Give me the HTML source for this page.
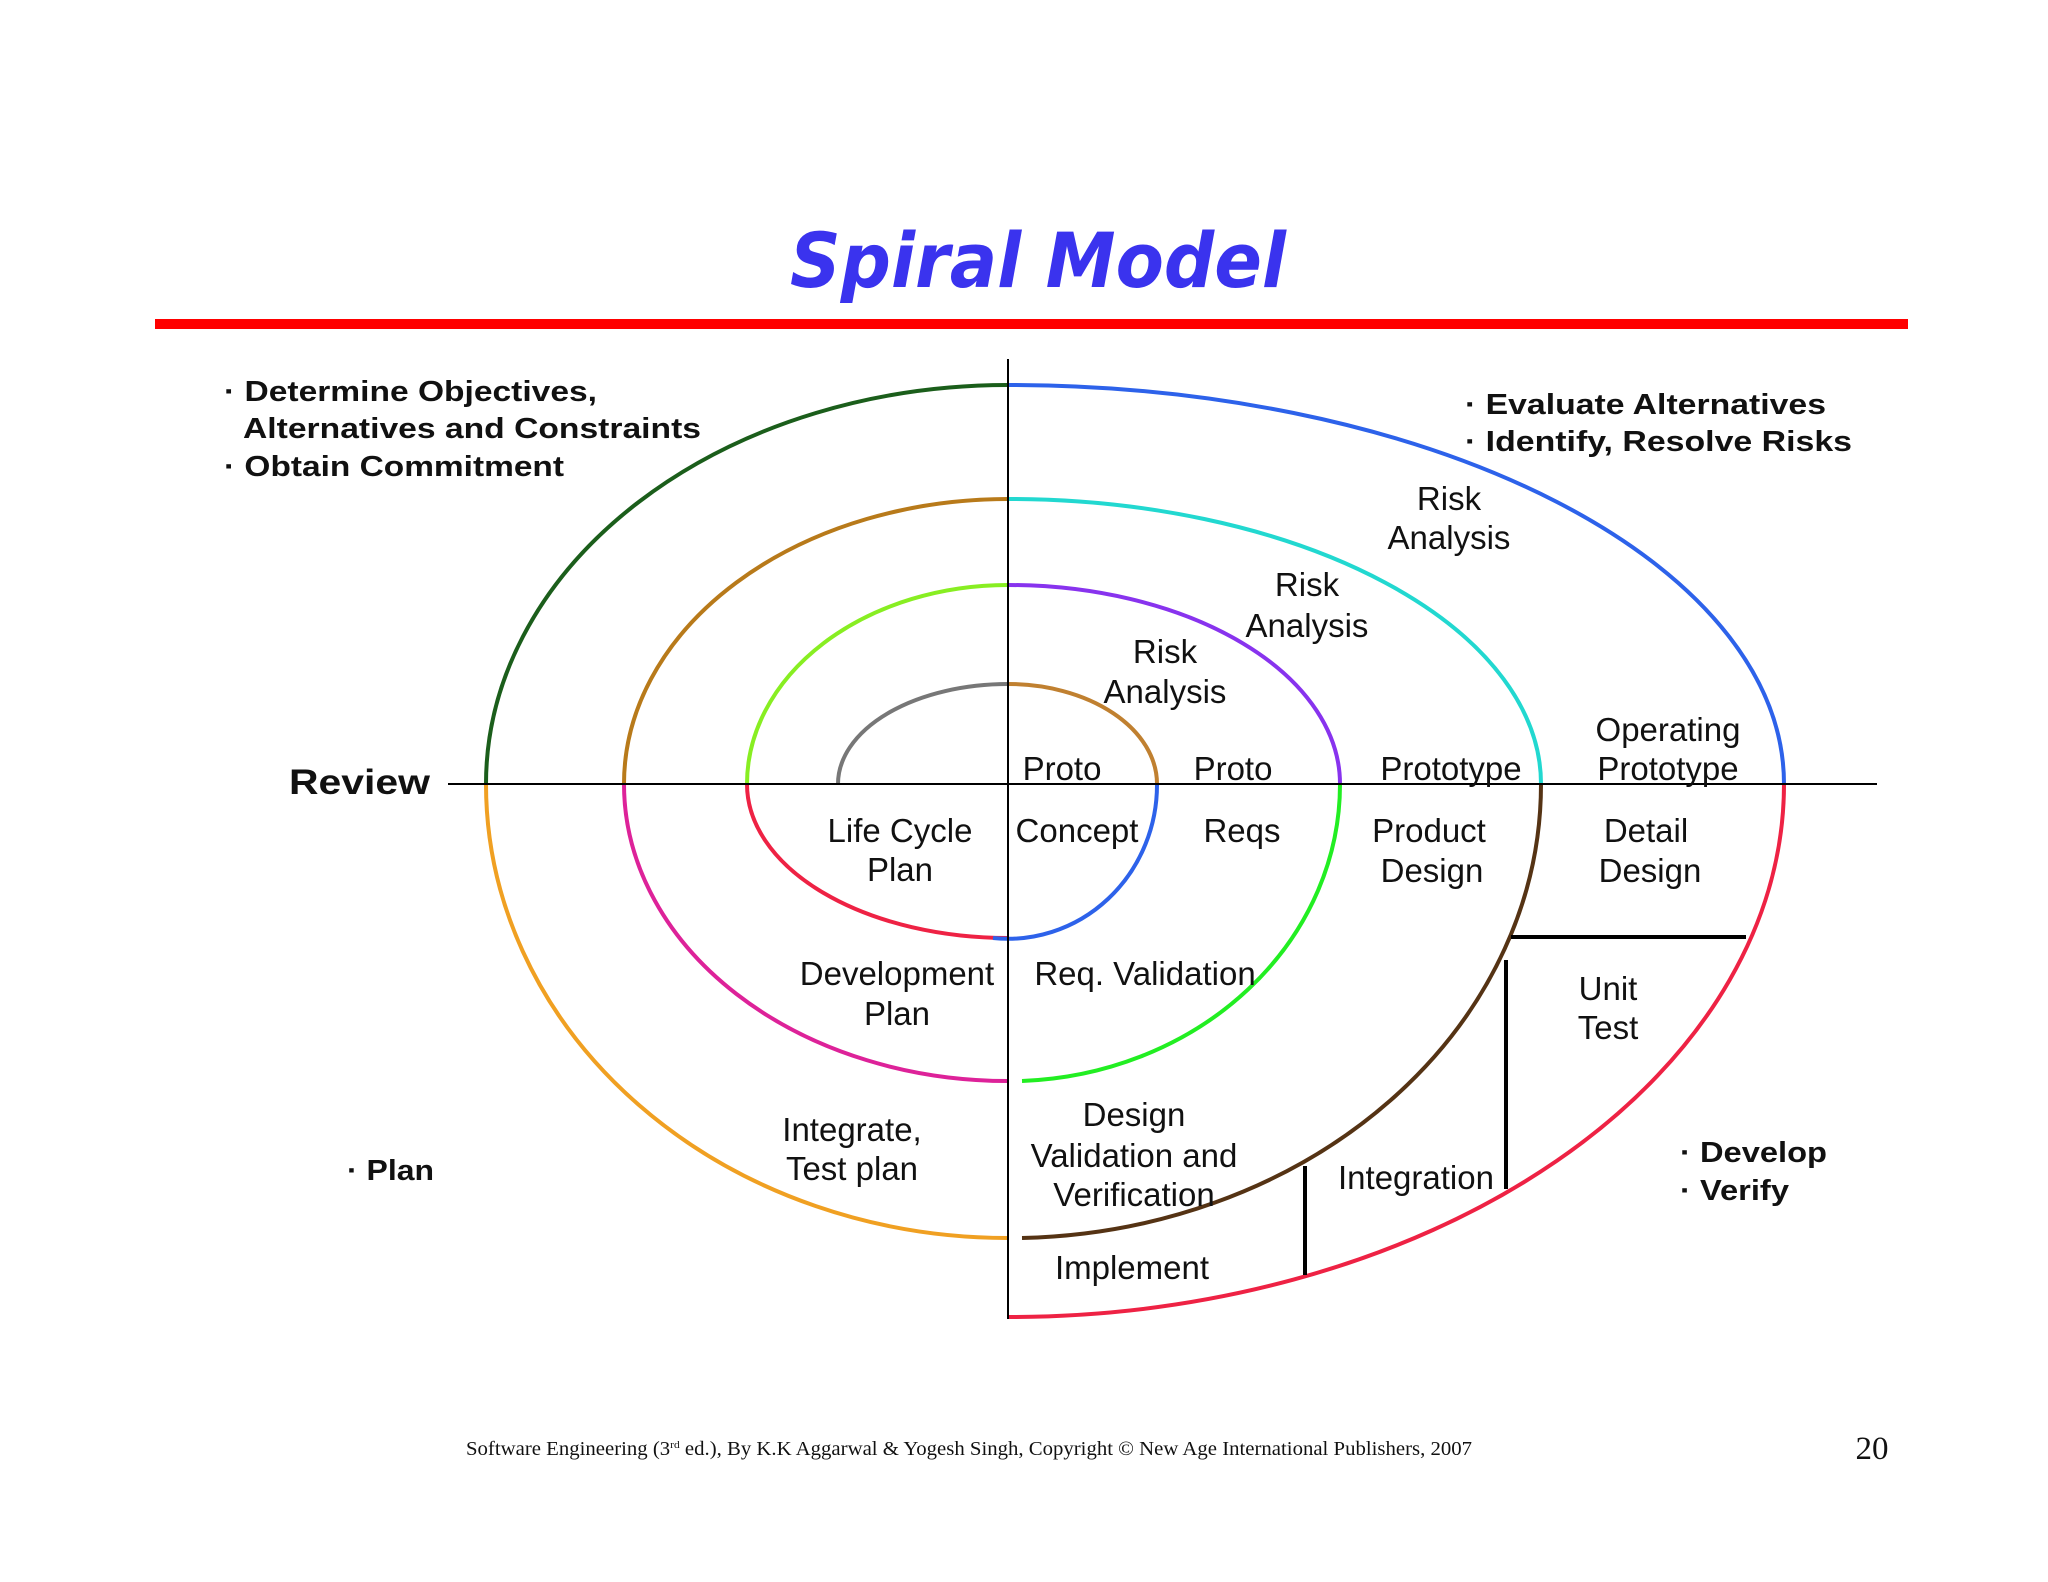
<!DOCTYPE html>
<html><head><meta charset="utf-8"><style>
html,body{margin:0;padding:0;background:#fff;}
svg{display:block;}
text{font-family:"Liberation Sans",sans-serif;}
</style></head><body>
<svg width="2048" height="1582" viewBox="0 0 2048 1582" xmlns="http://www.w3.org/2000/svg">
<rect width="2048" height="1582" fill="#ffffff"/>
<text x="1038" y="287" text-anchor="middle" font-size="76" font-weight="bold" font-style="italic" fill="#3a33ee" style="font-family:'DejaVu Sans Condensed','DejaVu Sans',sans-serif" textLength="496" lengthAdjust="spacingAndGlyphs">Spiral Model</text>
<rect x="155" y="319" width="1753" height="10" fill="#ff0000"/>
<g fill="none" stroke-width="4" stroke-linecap="butt">
<path d="M486 784 A522 399 0 0 1 1008 385" stroke="#1b5e1b"/>
<path d="M1008 385 A776 399 0 0 1 1784 784" stroke="#2d62ea"/>
<path d="M1784 784 A776 533 0 0 1 1008 1317" stroke="#ee2244"/>
<path d="M1008 1238 A522 454 0 0 1 486 784" stroke="#f0a022"/>
<path d="M624 784 A384 285 0 0 1 1008 499" stroke="#b87a1a"/>
<path d="M1008 499 A533 285 0 0 1 1541 784" stroke="#22d8d0"/>
<path d="M1541 784 A533 454 0 0 1 1022 1238" stroke="#553314"/>
<path d="M1008 1081 A384 297 0 0 1 624 784" stroke="#dd2299"/>
<path d="M747 784 A261 199 0 0 1 1008 585" stroke="#88ee22"/>
<path d="M1008 585 A332 199 0 0 1 1340 784" stroke="#8833ee"/>
<path d="M1340 784 A332 297 0 0 1 1022 1081" stroke="#22ee22"/>
<path d="M1008 938 A261 154 0 0 1 747 784" stroke="#ee2244"/>
<path d="M838 784 A170 100 0 0 1 1008 684" stroke="#777777"/>
<path d="M1008 684 A149 100 0 0 1 1157 784" stroke="#c08030"/>
<path d="M1157 784 A149 154 0 0 1 993 938" stroke="#2d62ea"/>
</g>
<g stroke="#000" fill="none">
<line x1="1008" y1="359" x2="1008" y2="1319" stroke-width="2"/>
<line x1="448" y1="784" x2="1877" y2="784" stroke-width="2"/>
<line x1="1511" y1="937" x2="1746" y2="937" stroke-width="4"/>
<line x1="1506" y1="960" x2="1506" y2="1189" stroke-width="4"/>
<line x1="1305" y1="1166" x2="1305" y2="1275" stroke-width="4"/>
</g>
<g font-size="33" fill="#111" text-anchor="middle">
<text x="1449" y="510">Risk</text><text x="1449" y="549">Analysis</text>
<text x="1307" y="596">Risk</text><text x="1307" y="637">Analysis</text>
<text x="1165" y="663">Risk</text><text x="1165" y="703">Analysis</text>
<text x="1062" y="780">Proto</text>
<text x="1233" y="780">Proto</text>
<text x="1451" y="780">Prototype</text>
<text x="1668" y="741">Operating</text><text x="1668" y="780">Prototype</text>
<text x="900" y="842">Life Cycle</text><text x="900" y="881">Plan</text>
<text x="1077" y="842">Concept</text>
<text x="1242" y="842">Reqs</text>
<text x="1429" y="842">Product</text><text x="1432" y="882">Design</text>
<text x="1646" y="842">Detail</text><text x="1650" y="882">Design</text>
<text x="897" y="985">Development</text><text x="897" y="1025">Plan</text>
<text x="1145" y="985">Req. Validation</text>
<text x="1608" y="1000">Unit</text><text x="1608" y="1039">Test</text>
<text x="852" y="1141">Integrate,</text><text x="852" y="1180">Test plan</text>
<text x="1134" y="1126">Design</text><text x="1134" y="1167">Validation and</text><text x="1134" y="1206">Verification</text>
<text x="1416" y="1189">Integration</text>
<text x="1132" y="1279">Implement</text>
</g>
<g font-weight="bold" fill="#111" lengthAdjust="spacingAndGlyphs">
<text x="289" y="794" font-size="35" textLength="141" lengthAdjust="spacingAndGlyphs">Review</text>
<g font-size="29">
<text x="224" y="401" textLength="373" lengthAdjust="spacingAndGlyphs">· Determine Objectives,</text>
<text x="243" y="438" textLength="458" lengthAdjust="spacingAndGlyphs">Alternatives and Constraints</text>
<text x="224" y="476" textLength="340" lengthAdjust="spacingAndGlyphs">· Obtain Commitment</text>
<text x="1465" y="414" textLength="361" lengthAdjust="spacingAndGlyphs">· Evaluate Alternatives</text>
<text x="1465" y="451" textLength="387" lengthAdjust="spacingAndGlyphs">· Identify, Resolve Risks</text>
<text x="347" y="1180" textLength="87" lengthAdjust="spacingAndGlyphs">· Plan</text>
<text x="1680" y="1162" textLength="147" lengthAdjust="spacingAndGlyphs">· Develop</text>
<text x="1680" y="1200" textLength="109" lengthAdjust="spacingAndGlyphs">· Verify</text>
</g>
</g>
<text x="466" y="1455" font-size="20" fill="#111" style="font-family:'Liberation Serif',serif" textLength="1006" lengthAdjust="spacingAndGlyphs">Software Engineering (3<tspan font-size="11" dy="-7">rd</tspan><tspan dy="7"> ed.), By K.K Aggarwal &amp; Yogesh Singh, Copyright © New Age International Publishers, 2007</tspan></text>
<text x="1872" y="1459" font-size="33" text-anchor="middle" fill="#111" style="font-family:'Liberation Serif',serif">20</text>
</svg>
</body></html>
